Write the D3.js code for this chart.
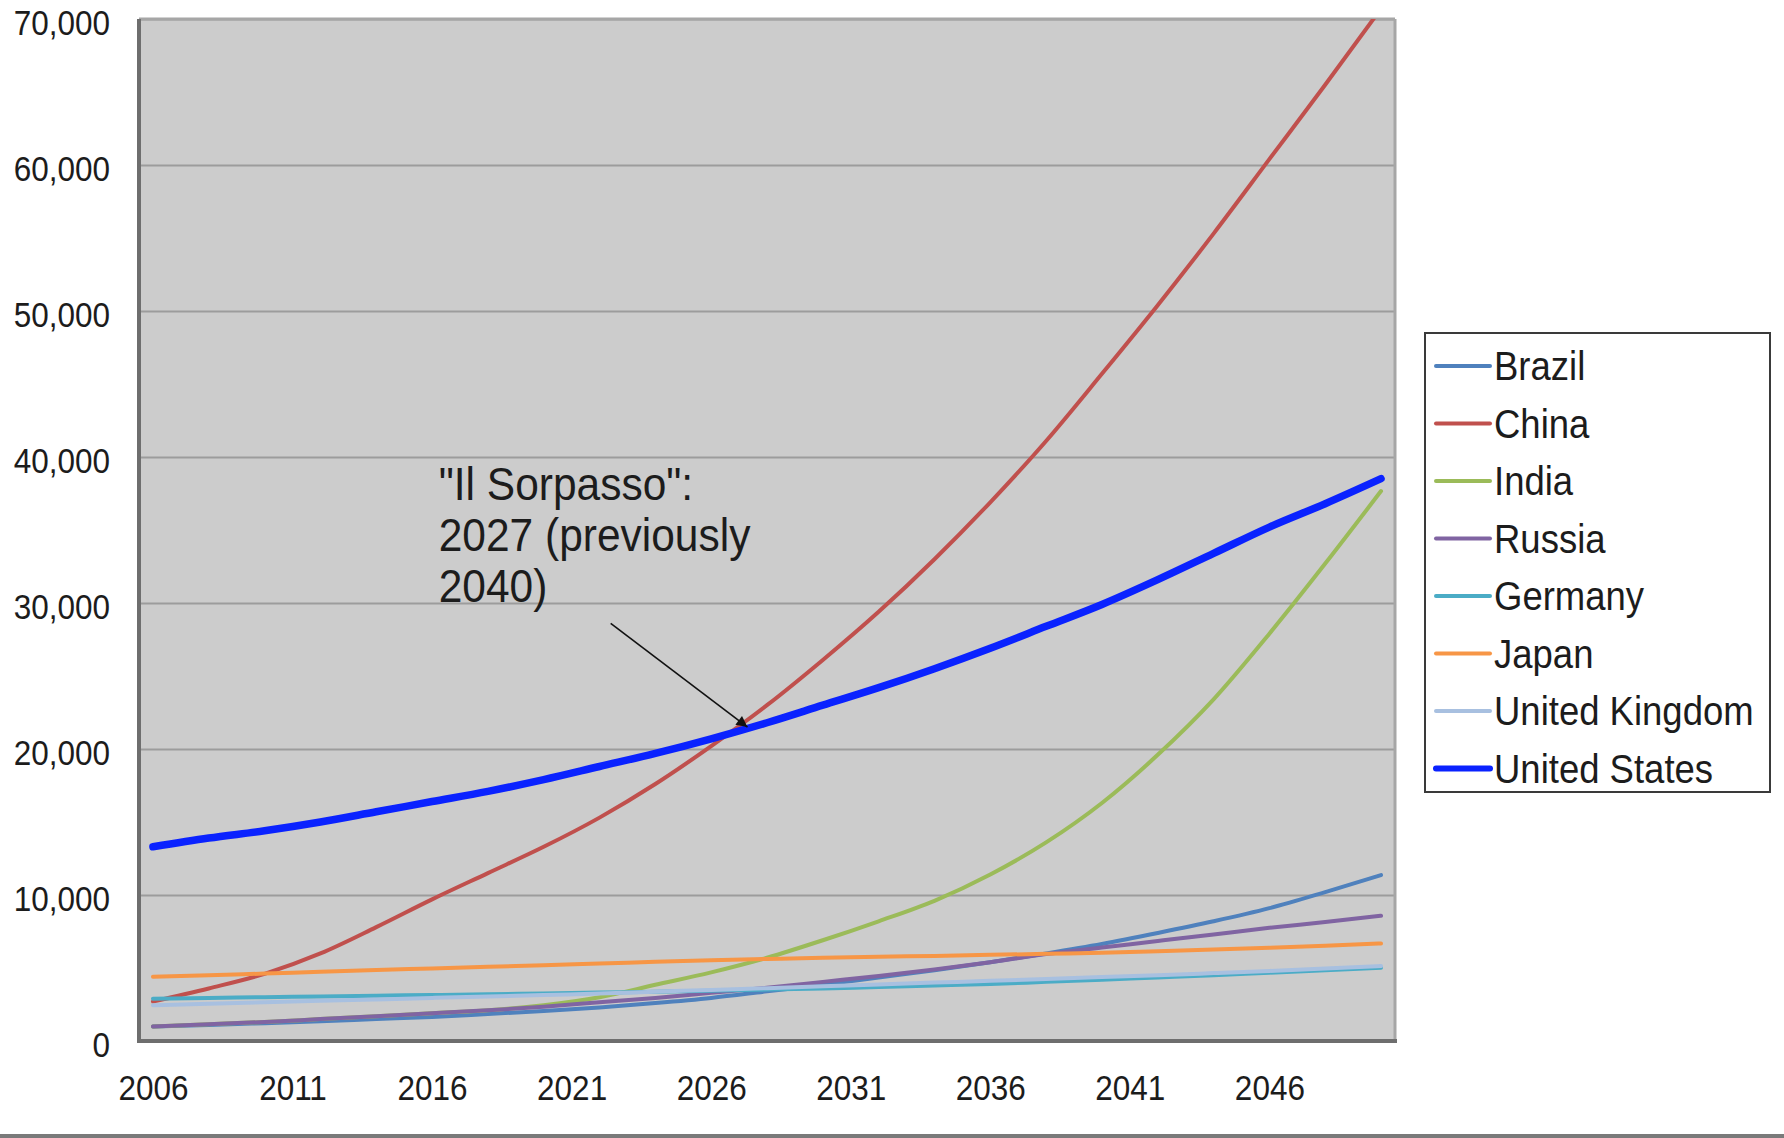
<!DOCTYPE html>
<meta charset="utf-8">
<head>
    <meta charset="UTF-8">
    <title>GDP projections to 2050</title>
    <style>
      body { margin: 0; background: #fff; }
      text { font-family: "Liberation Sans", Arial, sans-serif; fill: #1c1c1c; }
    </style>
</head>
<body>
<script src="https://d3js.org/d3.v7.min.js"></script>
<div id="chart"></div>
<script>

    // data (US$ bn), every 2 years
    const years = [2006, 2008, 2010, 2012, 2014, 2016, 2018, 2020, 2022, 2024, 2026, 2028,
                   2030, 2032, 2034, 2036, 2038, 2040, 2042, 2044, 2046, 2048, 2050]
    const brazil  = [1000, 1100, 1220, 1350, 1500, 1650, 1850, 2050, 2300, 2600, 2950, 3400,
                     3850, 4350, 4850, 5400, 6000, 6650, 7400, 8200, 9100, 10200, 11366]
    const china   = [2700, 3600, 4600, 6000, 7800, 9700, 11500, 13300, 15300, 17600, 20200, 23000,
                     26100, 29400, 33000, 36900, 41100, 45700, 50400, 55300, 60400, 65500, 70710]
    const india   = [1000, 1150, 1300, 1500, 1700, 1900, 2100, 2450, 3000, 3850, 4700, 5700,
                     6900, 8200, 9600, 11400, 13600, 16300, 19600, 23400, 27900, 32700, 37668]
    const russia  = [1000, 1150, 1300, 1500, 1700, 1900, 2100, 2350, 2650, 2950, 3300, 3650,
                     4050, 4450, 4900, 5400, 5950, 6400, 6850, 7300, 7750, 8150, 8580]
    const germany = [2900, 2950, 3000, 3050, 3100, 3150, 3200, 3260, 3320, 3380, 3450, 3520,
                     3600, 3700, 3800, 3900, 4050, 4200, 4350, 4500, 4680, 4850, 5024]
    const japan   = [4400, 4500, 4620, 4740, 4860, 4970, 5080, 5190, 5300, 5420, 5530, 5620,
                     5700, 5770, 5830, 5900, 5970, 6050, 6150, 6260, 6380, 6520, 6677]
    const uk      = [2450, 2550, 2650, 2750, 2850, 2950, 3050, 3150, 3250, 3380, 3500, 3620,
                     3750, 3870, 4000, 4120, 4250, 4380, 4500, 4650, 4800, 4960, 5133]
    const us      = [13300, 13900, 14400, 15000, 15700, 16400, 17100, 17900, 18800, 19700, 20700, 21800,
                     23000, 24200, 25500, 26900, 28400, 29900, 31600, 33400, 35200, 36800, 38514]

    const names  = ["Brazil", "China", "India", "Russia", "Germany", "Japan", "United Kingdom", "United States"]
    const colors = ["#4f81bd", "#c0504d", "#9bbb59", "#8064a2", "#4bacc6", "#f79646", "#a8c0e0", "#0a22ff"]
    const values = [brazil, china, india, russia, germany, japan, uk, us]

    const xTicks = [2006, 2011, 2016, 2021, 2026, 2031, 2036, 2041, 2046]
    const yTicks = [0, 10000, 20000, 30000, 40000, 50000, 60000, 70000]

    // annotation: crossing point and where the arrow starts
    const sorpasso = {year: 2027.3, value: 21500, fromYear: 2022.4, fromValue: 28600,
                      lines: ['"Il Sorpasso":', "2027 (previously", "2040)"]}

    const series = names.map((n, i) => ({
        name: n, color: colors[i],
        points: years.map((yr, j) => ({year: yr, value: values[i][j]}))
    }))

    // set the dimensions and margins of the graph
    const W = 1784, H = 1138
    const margin = {top: 19, right: 389, bottom: 97, left: 139},
      width = W - margin.left - margin.right,
      height = H - margin.top - margin.bottom;

    const root = d3.select("#chart")
      .append("svg")
        .attr("width", W)
        .attr("height", H)
    const svg = root.append("g")
        .attr("transform", `translate(${margin.left},${margin.top})`);

    const x = d3.scaleLinear()
      .domain([2005.5, 2050.5])
      .range([0, width])
    const y = d3.scaleLinear()
      .domain([0, 70000])
      .range([height, 0])

    // plot background
    svg.append("rect")
      .attr("width", width)
      .attr("height", height)
      .style("fill", "#cccccc")

    // gridlines
    svg.append("g")
      .call(d3.axisLeft(y).tickValues(yTicks).tickSize(-width).tickFormat(""))
      .call(g => g.select(".domain").remove())
      .call(g => g.selectAll("line").style("stroke", "#9c9c9c").style("stroke-width", 2))

    // frame: top and right light, left and bottom dark
    svg.append("line").attr("x1", 0).attr("x2", width).attr("y1", 0).attr("y2", 0)
      .style("stroke", "#a6a6a6").style("stroke-width", 3)
    svg.append("line").attr("x1", width).attr("x2", width).attr("y1", 0).attr("y2", height)
      .style("stroke", "#a6a6a6").style("stroke-width", 3)

    svg.append("clipPath").attr("id", "clip")
      .append("rect").attr("width", width).attr("height", height)

    const line = d3.line()
      .x(d => x(d.year))
      .y(d => y(d.value))
      .curve(d3.curveMonotoneX)

    svg.append("g")
      .attr("clip-path", "url(#clip)")
      .selectAll("path")
      .data(series)
      .join("path")
        .attr("d", d => line(d.points))
        .style("fill", "none")
        .style("stroke", d => d.color)
        .style("stroke-width", d => d.name == "United States" ? 7.5 : 4)
        .style("stroke-linecap", "round")
        .style("stroke-linejoin", "round")

    svg.append("line").attr("x1", 0).attr("x2", 0).attr("y1", 0).attr("y2", height)
      .style("stroke", "#6e6e6e").style("stroke-width", 4)
    svg.append("line").attr("x1", -2).attr("x2", width + 2).attr("y1", height).attr("y2", height)
      .style("stroke", "#6e6e6e").style("stroke-width", 4)

    // Y axis labels
    svg.append("g")
      .call(d3.axisLeft(y).tickValues(yTicks).tickSize(0).tickPadding(29).tickFormat(d3.format(",")))
      .call(g => g.select(".domain").remove())
      .call(g => g.selectAll("text")
          .attr("font-family", null)
          .attr("dy", "0.45em")
          .style("font-size", "31.5px")
          .attr("transform", "scale(1,1.1)"))

    // X axis labels
    svg.append("g")
      .attr("transform", `translate(0, ${height})`)
      .call(d3.axisBottom(x).tickValues(xTicks).tickSize(0).tickFormat(d3.format("d")))
      .call(g => g.select(".domain").remove())
      .call(g => g.selectAll("text")
          .attr("font-family", null)
          .attr("y", 43)
          .attr("dy", "0.35em")
          .style("font-size", "31.5px")
          .attr("transform", "scale(1,1.1)"))

    // annotation arrow
    const defs = root.append("defs")
    defs.append("marker")
        .attr("id", "arrow")
        .attr("viewBox", "0 0 10 10")
        .attr("refX", 10).attr("refY", 5)
        .attr("markerWidth", 13).attr("markerHeight", 11)
        .attr("markerUnits", "userSpaceOnUse")
        .attr("orient", "auto")
      .append("path")
        .attr("d", "M0,0 L10,5 L0,10 z")
        .style("fill", "#111")

    svg.append("line")
      .attr("x1", x(sorpasso.fromYear)).attr("y1", y(sorpasso.fromValue))
      .attr("x2", x(sorpasso.year)).attr("y2", y(sorpasso.value))
      .style("stroke", "#111")
      .style("stroke-width", 1.6)
      .attr("marker-end", "url(#arrow)")

    const note = svg.append("g")
      .attr("transform", `translate(${x(sorpasso.fromYear) - 172}, ${y(sorpasso.fromValue) - 140}) scale(1,1.1)`)
    note.selectAll("text")
      .data(sorpasso.lines)
      .join("text")
        .attr("x", 0)
        .attr("y", (d, i) => i * 46.5)
        .attr("dy", "0.35em")
        .style("font-size", "42.5px")
        .text(d => d)

    // legend
    const legend = root.append("g").attr("transform", "translate(1425,333)")
    legend.append("rect")
      .attr("width", 345)
      .attr("height", 459)
      .style("fill", "#fff")
      .style("stroke", "#3a3a3a")
      .style("stroke-width", 2)
    const item = legend.selectAll("g.item")
      .data(series)
      .join("g")
        .attr("class", "item")
        .attr("transform", (d, i) => `translate(0, ${33 + i * 57.5})`)
    item.append("line")
      .attr("x1", 11).attr("x2", 65)
      .style("stroke", d => d.color)
      .style("stroke-width", d => d.name == "United States" ? 6 : 4)
      .style("stroke-linecap", "round")
    item.append("text")
      .attr("transform", "translate(69,0) scale(1,1.1)")
      .attr("dy", "0.35em")
      .style("font-size", "36.5px")
      .text(d => d.name)

    // bottom border of the picture
    root.append("rect")
      .attr("x", 0).attr("y", 1134)
      .attr("width", W).attr("height", 4)
      .style("fill", "#7a7a7a")
</script>
</body>
